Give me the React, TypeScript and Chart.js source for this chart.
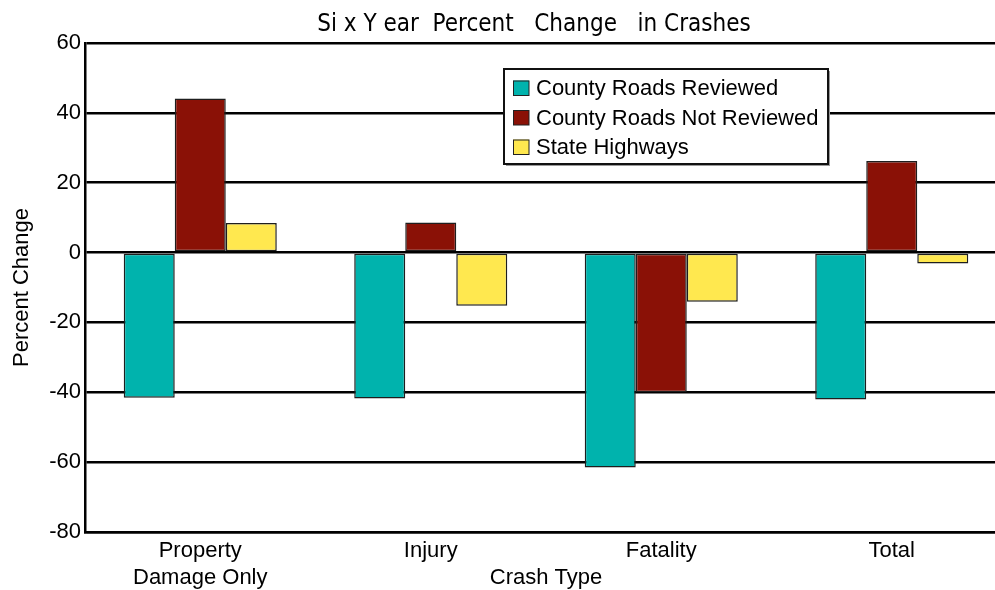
import React, { useEffect, useRef } from "react";
import { Chart, registerables } from "chart.js";

Chart.register(...registerables);

const categories: (string | string[])[] = [["Property", "Damage Only"], "Injury", "Fatality", "Total"];
const seriesNames = ["County Roads Reviewed", "County Roads Not Reviewed", "State Highways"];
const reviewed = [-41.6, -41.8, -61.5, -42.1];
const notReviewed = [44.1, 8.6, -40.0, 26.2];
const stateHighways = [8.5, -15.2, -14.1, -3.1];
const yTicks = [60, 40, 20, 0, -20, -40, -60, -80];

const titleText = "Si x Y ear  Percent   Change   in Crashes";
const xTitle = "Crash Type";
const yTitle = "Percent Change";

const FONT = "'Liberation Sans', Arial, sans-serif";

const overlayPlugin = {
  id: "overlay",
  afterDraw(chart: any) {
    const { ctx, chartArea } = chart;
    const cx = (chartArea.left + chartArea.right) / 2;
    ctx.save();
    ctx.fillStyle = "#000";
    // title
    ctx.font = "24px 'DejaVu Sans Condensed', 'DejaVu Sans', sans-serif";
    ctx.textAlign = "center";
    ctx.textBaseline = "alphabetic";
    ctx.fillText(titleText, cx - 12, 31);
    // x title
    ctx.font = `22px ${FONT}`;
    ctx.fillText(xTitle, cx, chartArea.bottom + 52);
    // y title
    ctx.save();
    ctx.translate(28, (chartArea.top + chartArea.bottom) / 2);
    ctx.rotate(-Math.PI / 2);
    ctx.textBaseline = "alphabetic";
    ctx.fillText(yTitle, 0, 0);
    ctx.restore();

    // legend
    const bx = chartArea.left + 419;
    const by = chartArea.top + 26;
    const bw = 324;
    const bh = 95;
    ctx.fillStyle = "#999";
    ctx.fillRect(bx + 2, by + 2, bw, bh);
    ctx.fillStyle = "#fff";
    ctx.fillRect(bx, by, bw, bh);
    ctx.strokeStyle = "#111";
    ctx.lineWidth = 2;
    ctx.strokeRect(bx, by, bw, bh);
    ctx.font = `22px ${FONT}`;
    ctx.textAlign = "left";
    ctx.textBaseline = "middle";
    chart.data.datasets.forEach((ds: any, i: number) => {
      const rowY = by + 19 + i * 29.5;
      ctx.fillStyle = ds.backgroundColor;
      ctx.fillRect(bx + 9, rowY - 7.5, 16, 15);
      ctx.strokeStyle = "#222";
      ctx.lineWidth = 1;
      ctx.strokeRect(bx + 9.5, rowY - 7, 15.5, 14.5);
      ctx.fillStyle = "#000";
      ctx.fillText(ds.label, bx + 32, rowY + 1);
    });
    ctx.restore();
  },
};

export default function App() {
  const ref = useRef<HTMLCanvasElement | null>(null);

  useEffect(() => {
    document.body.style.margin = "0";
    document.body.style.overflow = "hidden";
    const canvas = ref.current;
    if (!canvas) return;
    const barStyle = { borderColor: "#1e1e1e", borderWidth: 1.5, borderSkipped: false as const };
    const chart = new Chart(canvas, {
      type: "bar",
      data: {
        labels: categories,
        datasets: [
          { label: seriesNames[0], data: reviewed, backgroundColor: "#00b3ad", ...barStyle },
          { label: seriesNames[1], data: notReviewed, backgroundColor: "#8a1106", ...barStyle },
          { label: seriesNames[2], data: stateHighways, backgroundColor: "#ffe84f", ...barStyle },
        ],
      },
      options: {
        responsive: false,
        animation: false,
        devicePixelRatio: 1,
        layout: { padding: { top: 43, right: 1, left: 0, bottom: 0 } },
        datasets: { bar: { categoryPercentage: 0.664, barPercentage: 1 } },
        plugins: {
          legend: { display: false },
          title: { display: false },
          tooltip: { enabled: false },
        },
        scales: {
          x: {
            grid: { display: false, drawTicks: false },
            border: { display: true, color: "#000", width: 2.5 },
            ticks: {
              color: "#000",
              font: { family: FONT, size: 22, lineHeight: 1.2 },
              padding: 6,
              maxRotation: 0,
              autoSkip: false,
            },
            afterFit: (s: any) => {
              s.height = 58;
            },
          },
          y: {
            min: -80,
            max: 60,
            afterBuildTicks: (s: any) => {
              s.ticks = yTicks.map((v) => ({ value: v }));
            },
            grid: { color: "#000", lineWidth: 2.5, drawTicks: false },
            border: { display: true, color: "#000", width: 2.5 },
            ticks: {
              color: "#000",
              font: { family: FONT, size: 22 },
              padding: 4,
            },
            afterFit: (s: any) => {
              s.width = 85;
            },
          },
        },
      },
      plugins: [overlayPlugin],
    });
    return () => chart.destroy();
  }, []);

  return (
    <div style={{ width: 995, height: 590, overflow: "hidden" }}>
      <canvas ref={ref} width={1008} height={590} style={{ display: "block" }} />
    </div>
  );
}
